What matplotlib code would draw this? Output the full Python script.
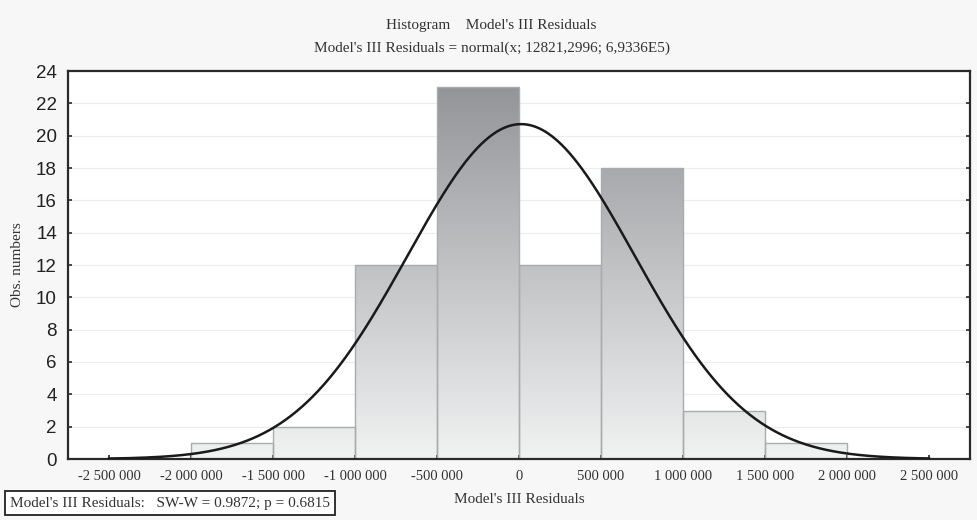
import numpy as np
import matplotlib.pyplot as plt
from matplotlib.colors import LinearSegmentedColormap

# histogram of residuals (bin edges and counts)
bin_left = [-2000000, -1500000, -1000000, -500000, 0, 500000, 1000000, 1500000]
counts = [1, 2, 12, 23, 12, 18, 3, 1]
bin_width = 500000

# fitted normal from the subtitle
mu = 12821.2996
sigma = 6.9336e5

x_ticks = [-2500000, -2000000, -1500000, -1000000, -500000, 0,
           500000, 1000000, 1500000, 2000000, 2500000]
x_labels = ["-2 500 000", "-2 000 000", "-1 500 000", "-1 000 000", "-500 000", "0",
            "500 000", "1 000 000", "1 500 000", "2 000 000", "2 500 000"]
y_ticks = list(range(0, 25, 2))

SERIF = "Liberation Serif"
SANS = "Liberation Sans"

fig = plt.figure(figsize=(9.77, 5.2), dpi=100)
fig.patch.set_facecolor('#f7f7f7')
ax = fig.add_axes([68 / 977, 1 - 459 / 520, (970 - 68) / 977, (459 - 71) / 520])
ax.set_facecolor('white')

xmin, xmax = -2750000, 2750000
ax.set_xlim(xmin, xmax)
ax.set_ylim(0, 24)

# faint horizontal grid
for yv in y_ticks[1:-1]:
    ax.axhline(yv, color='#ececec', lw=0.8, zorder=0)

# gradient fill, mapped to absolute y (dark at top, light at bottom)
cmap = LinearSegmentedColormap.from_list('g', ['#f1f2f2', '#8f9195'])
grad = np.linspace(0, 1, 256).reshape(-1, 1)
bars = ax.bar(bin_left, counts, width=bin_width, align='edge',
              facecolor='none', edgecolor='#a9abad', lw=1.0, zorder=2)
for b in bars:
    im = ax.imshow(grad, cmap=cmap, aspect='auto', origin='lower',
                   extent=[xmin, xmax, 0, 24], vmin=0, vmax=1, zorder=1)
    im.set_clip_path(b)

# normal curve scaled to counts
xs = np.linspace(-2500000, 2500000, 600)
n_total = sum(counts)
ys = n_total * bin_width / (sigma * np.sqrt(2 * np.pi)) * np.exp(-0.5 * ((xs - mu) / sigma) ** 2)
ax.plot(xs, ys, color='#1a1a1a', lw=1.8, zorder=3)

for s in ax.spines.values():
    s.set_color('#2a2a2a')
    s.set_linewidth(1.6)

ax.set_xticks(x_ticks)
ax.set_xticklabels(x_labels, fontfamily=SERIF, fontsize=10.5, color='#333333')
ax.set_yticks(y_ticks)
ax.set_yticklabels([str(v) for v in y_ticks], fontfamily=SANS, fontsize=13.5, color='#222222')
ax.tick_params(axis='both', direction='in', length=3, width=1.2, color='#2a2a2a',
               right=True, top=False)
ax.tick_params(axis='x', pad=8)
ax.tick_params(axis='y', pad=8)

ax.set_ylabel("Obs. numbers", fontfamily=SERIF, fontsize=11, color='#333333')
ax.yaxis.set_label_coords(-(68 - 24) / 902, 0.5)
ax.set_xlabel("Model's III Residuals", fontfamily=SERIF, fontsize=11, color='#333333', labelpad=7)

fig.text(491 / 977, 1 - 25 / 520, "Histogram    Model's III Residuals", ha='center', va='center',
         fontfamily=SERIF, fontsize=11, color='#333333')
fig.text(492 / 977, 1 - 48 / 520, "Model's III Residuals = normal(x; 12821,2996; 6,9336E5)",
         ha='center', va='center', fontfamily=SERIF, fontsize=11, color='#333333')

fig.text(10 / 977, 1 - 503 / 520, "Model's III Residuals:   SW-W = 0.9872; p = 0.6815",
         ha='left', va='center', fontfamily=SERIF, fontsize=11, color='#333333',
         bbox=dict(boxstyle='square,pad=0.35', facecolor='white', edgecolor='#222222', lw=1.3))

fig.savefig('out.png', dpi=100, facecolor=fig.get_facecolor())
